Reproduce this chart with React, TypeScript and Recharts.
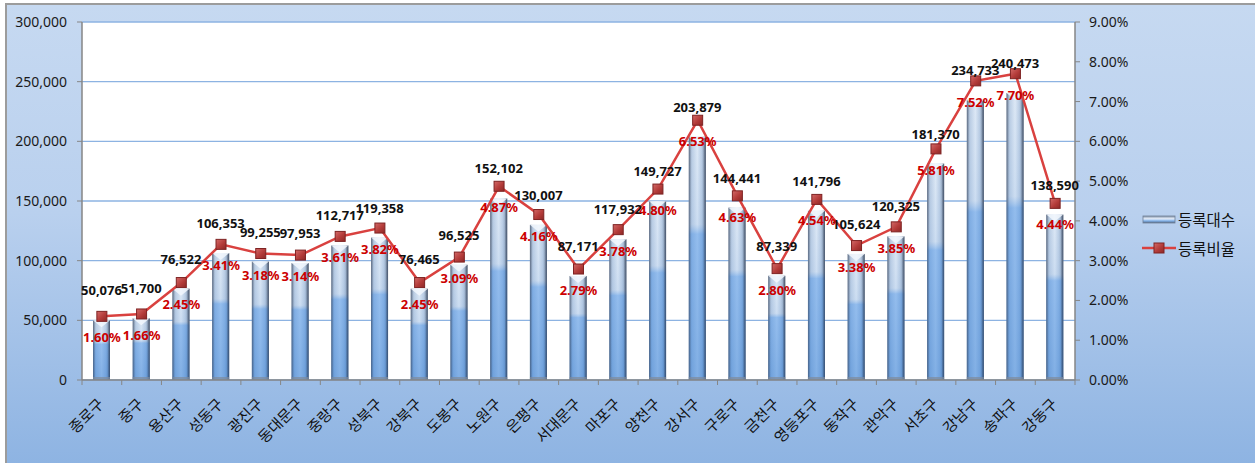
import {
  ComposedChart,
  Bar,
  Line,
  XAxis,
  YAxis,
  CartesianGrid,
  LabelList,
  Legend,
} from "recharts";

const districts = [
  "종로구", "중구", "용산구", "성동구", "광진구", "동대문구", "중랑구", "성북구",
  "강북구", "도봉구", "노원구", "은평구", "서대문구", "마포구", "양천구", "강서구",
  "구로구", "금천구", "영등포구", "동작구", "관악구", "서초구", "강남구", "송파구", "강동구",
];

const registered = [
  50076, 51700, 76522, 106353, 99255, 97953, 112717, 119358, 76465, 96525,
  152102, 130007, 87171, 117932, 149727, 203879, 144441, 87339, 141796, 105624,
  120325, 181370, 234733, 240473, 138590,
];

// percent
const ratio = [
  1.6, 1.66, 2.45, 3.41, 3.18, 3.14, 3.61, 3.82, 2.45, 3.09, 4.87, 4.16, 2.79,
  3.78, 4.8, 6.53, 4.63, 2.8, 4.54, 3.38, 3.85, 5.81, 7.52, 7.7, 4.44,
];

const countTicks = [0, 50000, 100000, 150000, 200000, 250000, 300000];
const ratioTicks = [0, 1, 2, 3, 4, 5, 6, 7, 8, 9];

const data = districts.map((name, i) => ({
  name,
  count: registered[i],
  ratio: ratio[i],
}));

const W = 1255;
const H = 463;
const PLOT_W = 993;
const BAND = PLOT_W / districts.length;
const NUM_FONT = "'Noto Sans', 'Liberation Sans', sans-serif";
const KR_FONT = "'Noto Sans CJK KR', 'Noto Sans', sans-serif";

function CylinderBar(props: any) {
  const { x, y, width, height } = props;
  if (!height || height <= 0) return null;
  return (
    <g>
      <rect x={x} y={y} width={width} height={height} fill="url(#barBody)" />
      <rect x={x} y={y} width={width} height={height} fill="url(#barBlue)" />
      <rect x={x} y={y} width={width} height={height} fill="url(#barEdge)" />
      <polygon
        points={`${x},${y} ${x + width},${y} ${x + width / 2},${y + 7}`}
        fill="#f2f7fd"
        opacity={0.85}
      />
      <rect x={x} y={y + height - 3} width={width} height={3} fill="#7d8a9c" opacity={0.7} />
    </g>
  );
}

function SquareDot(props: any) {
  const { cx, cy } = props;
  if (cx == null || cy == null) return null;
  return (
    <rect
      x={cx - 5}
      y={cy - 5}
      width={10}
      height={10}
      fill="url(#dotFill)"
      stroke="#7e2323"
      strokeWidth={1}
    />
  );
}

function CountLabel(props: any) {
  const { x, y, width, value } = props;
  return (
    <text
      x={x + width / 2}
      y={y - 30}
      textAnchor="middle"
      dominantBaseline="central"
      fontFamily={NUM_FONT}
      fontWeight="bold"
      fontSize={13}
      fill="#111"
    >
      {Number(value).toLocaleString("en-US")}
    </text>
  );
}

function RatioLabel(props: any) {
  const { x, y, value } = props;
  return (
    <text
      x={x}
      y={y + 21}
      textAnchor="middle"
      dominantBaseline="central"
      fontFamily={NUM_FONT}
      fontWeight="bold"
      fontSize={13}
      fill="#cc0000"
    >
      {Number(value).toFixed(2)}%
    </text>
  );
}

function DistrictTick(props: any) {
  const { x, y, payload, index } = props;
  const last = index === districts.length - 1;
  return (
    <g>
      <line x1={x - BAND / 2} x2={x - BAND / 2} y1={y} y2={y + 5} stroke="#868686" />
      {last && <line x1={x + BAND / 2} x2={x + BAND / 2} y1={y} y2={y + 5} stroke="#868686" />}
      <text
        transform={`translate(${x + 3},${y + 25}) rotate(-45)`}
        textAnchor="end"
        fontFamily={KR_FONT}
        fontSize={15}
        fill="#111"
      >
        {payload.value}
      </text>
    </g>
  );
}

function LegendBox(props: any) {
  const { payload } = props;
  return (
    <div style={{ fontFamily: KR_FONT, fontSize: 15.5, color: "#111" }}>
      {(payload || []).map((p: any) => (
        <div key={p.value} style={{ display: "flex", alignItems: "center", height: 29 }}>
          <svg width={34} height={14} style={{ marginRight: 2 }}>
            {p.type === "rect" ? (
              <g>
                <rect x={1} y={4} width={32} height={7} fill="url(#legendBar)" />
                <rect x={1} y={4} width={32} height={7} fill="none" stroke="#6f7f96" strokeWidth={0.8} />
              </g>
            ) : (
              <g>
                <line x1={0} x2={34} y1={7} y2={7} stroke="#d9413f" strokeWidth={2.5} />
                <rect x={12} y={2} width={10} height={10} fill="url(#dotFill)" stroke="#7e2323" />
              </g>
            )}
          </svg>
          <span>{p.value}</span>
        </div>
      ))}
    </div>
  );
}

export default function App() {
  return (
    <div style={{ position: "absolute", left: 0, top: 0, width: W, height: H, overflow: "hidden" }}>
      <div
        style={{
          position: "absolute",
          left: 5,
          top: 3,
          width: W,
          height: H,
          background: "linear-gradient(180deg, #c6d9f1 0%, #b9d0ee 45%, #8db3e2 100%)",
          borderLeft: "2px solid #9c9c9c",
          borderTop: "2px solid #9c9c9c",
        }}
      />
      <div style={{ position: "absolute", left: 0, top: 0 }}>
        <ComposedChart
          width={W}
          height={H}
          data={data}
          margin={{ top: 22, right: 110, bottom: 0, left: 0 }}
        >
          <defs>
            <linearGradient id="barBody" x1="0" y1="0" x2="1" y2="0">
              <stop offset="0%" stopColor="#8493a8" />
              <stop offset="20%" stopColor="#c6d4e6" />
              <stop offset="50%" stopColor="#eef4fb" />
              <stop offset="75%" stopColor="#c3d2e5" />
              <stop offset="100%" stopColor="#6e7d93" />
            </linearGradient>
            <linearGradient id="barBlue" x1="0" y1="0" x2="0" y2="1">
              <stop offset="0%" stopColor="#9bbbe0" stopOpacity={0.2} />
              <stop offset="36%" stopColor="#8fb4e0" stopOpacity={0.35} />
              <stop offset="40%" stopColor="#4a90e2" stopOpacity={0.55} />
              <stop offset="100%" stopColor="#3a82d6" stopOpacity={0.6} />
            </linearGradient>
            <linearGradient id="barEdge" x1="0" y1="0" x2="1" y2="0">
              <stop offset="0%" stopColor="#3c465a" stopOpacity={0.55} />
              <stop offset="14%" stopColor="#3c465a" stopOpacity={0} />
              <stop offset="84%" stopColor="#283246" stopOpacity={0} />
              <stop offset="100%" stopColor="#283246" stopOpacity={0.65} />
            </linearGradient>
            <linearGradient id="dotFill" x1="0" y1="0" x2="1" y2="1">
              <stop offset="0%" stopColor="#d36a68" />
              <stop offset="55%" stopColor="#b33b39" />
              <stop offset="100%" stopColor="#8c2826" />
            </linearGradient>
            <linearGradient id="legendBar" x1="0" y1="0" x2="0" y2="1">
              <stop offset="0%" stopColor="#8493a8" />
              <stop offset="40%" stopColor="#e6eefa" />
              <stop offset="70%" stopColor="#7fb0e8" />
              <stop offset="100%" stopColor="#5a6b85" />
            </linearGradient>
          </defs>
          <CartesianGrid
            yAxisId="left"
            vertical={false}
            stroke="#8db3e2"
            strokeWidth={1.3}
            fill="#ffffff"
            fillOpacity={1}
          />
          <XAxis
            dataKey="name"
            height={83}
            interval={0}
            tickSize={0}
            tickMargin={0}
            tickLine={false}
            axisLine={{ stroke: "#868686", strokeWidth: 1.5 }}
            tick={<DistrictTick />}
          />
          <YAxis
            yAxisId="left"
            width={82}
            domain={[0, 300000]}
            ticks={countTicks}
            interval={0}
            tickSize={5}
            tickMargin={10}
            axisLine={{ stroke: "#868686", strokeWidth: 1.5 }}
            tickLine={{ stroke: "#868686" }}
            tick={{ fill: "#1a1a1a", fontSize: 14, fontFamily: NUM_FONT }}
            tickFormatter={(v: number) => v.toLocaleString("en-US")}
          />
          <YAxis
            yAxisId="right"
            orientation="right"
            width={70}
            domain={[0, 9]}
            ticks={ratioTicks}
            interval={0}
            tickSize={5}
            tickMargin={9}
            axisLine={{ stroke: "#868686", strokeWidth: 1.5 }}
            tickLine={{ stroke: "#868686" }}
            tick={{ fill: "#1a1a1a", fontSize: 14, fontFamily: NUM_FONT }}
            tickFormatter={(v: number) => `${v.toFixed(2)}%`}
          />
          <Legend
            layout="horizontal"
            align="center"
            verticalAlign="middle"
            wrapperStyle={{ left: 1142, top: 204, width: 110 }}
            content={<LegendBox />}
          />
          <Bar
            yAxisId="left"
            dataKey="count"
            name="등록대수"
            legendType="rect"
            barSize={17}
            shape={<CylinderBar />}
            isAnimationActive={false}
          >
            <LabelList dataKey="count" content={<CountLabel />} />
          </Bar>
          <Line
            yAxisId="right"
            dataKey="ratio"
            name="등록비율"
            legendType="line"
            type="linear"
            stroke="#d9413f"
            strokeWidth={2.5}
            dot={<SquareDot />}
            activeDot={false}
            isAnimationActive={false}
          >
            <LabelList dataKey="ratio" content={<RatioLabel />} />
          </Line>
        </ComposedChart>
      </div>
    </div>
  );
}
